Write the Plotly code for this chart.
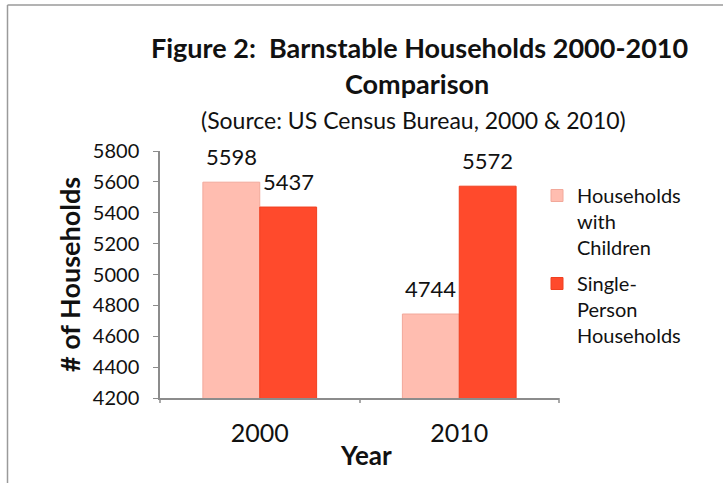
import plotly.graph_objects as go

years = ["2000", "2010"]
children = [5598, 4744]
single = [5437, 5572]
series_names = ["Households<br>with<br>Children", "Single-<br>Person<br>Households"]
y_ticks = [4200, 4400, 4600, 4800, 5000, 5200, 5400, 5600, 5800]

FONT = "Lato"
light = "#FFBDB0"
dark = "#FF4A2C"

fig = go.Figure()
fig.add_trace(go.Bar(
    x=years, y=children, name=series_names[0], legendgroup="a",
    marker=dict(color=light, line=dict(color="#F2A89A", width=1)),
))
fig.add_trace(go.Bar(
    x=years, y=single, name=series_names[1], legendgroup="b",
    marker=dict(color=dark, line=dict(color="#F04020", width=1)),
))

L, R, T, B = 160, 723 - 559, 151, 483 - 398
W, H = 723, 483
pw, ph = W - L - R, H - T - B

def px_x(p):
    return (p - L) / pw

def px_y(p):
    return (H - B - p) / ph

# data labels above each bar; x is the category index, shifted by half a bar width
annotations = []
bar_half = 28.5
for i, yr in enumerate(years):
    for vals, shift in ((children, -bar_half), (single, bar_half)):
        annotations.append(dict(
            x=i, y=vals[i], xref="x", yref="y", text=str(vals[i]), showarrow=False,
            xanchor="center", yanchor="middle", xshift=shift, yshift=26,
            font=dict(family=FONT, size=22, color="#111"),
        ))

annotations += [
    dict(text="<b>Figure 2:  Barnstable Households 2000-2010</b>", x=px_x(419), y=px_y(47),
         xref="paper", yref="paper", showarrow=False, xanchor="center", yanchor="middle",
         font=dict(family=FONT, size=27, color="#111")),
    dict(text="<b>Comparison</b>", x=px_x(417), y=px_y(83),
         xref="paper", yref="paper", showarrow=False, xanchor="center", yanchor="middle",
         font=dict(family=FONT, size=27, color="#111")),
    dict(text="(Source: US Census Bureau, 2000 & 2010)", x=px_x(413), y=px_y(120),
         xref="paper", yref="paper", showarrow=False, xanchor="center", yanchor="middle",
         font=dict(family=FONT, size=23, color="#111")),
    dict(text="<b>Year</b>", x=px_x(366), y=px_y(455),
         xref="paper", yref="paper", showarrow=False, xanchor="center", yanchor="middle",
         font=dict(family=FONT, size=26, color="#111")),
]

fig.update_layout(
    width=W, height=H,
    margin=dict(l=L, r=R, t=T, b=B, pad=0),
    paper_bgcolor="white", plot_bgcolor="white",
    barmode="group", bargap=0.43, bargroupgap=0,
    font=dict(family=FONT, color="#111"),
    showlegend=True,
    legend=dict(
        x=px_x(537), y=px_y(176), xanchor="left", yanchor="top",
        font=dict(family=FONT, size=20, color="#111"),
        bgcolor="rgba(0,0,0,0)", tracegroupgap=7, valign="top",
        itemwidth=30,
    ),
    xaxis=dict(
        type="category", range=[-0.5, 1.5],
        showline=True, linecolor="#8C8C8C", linewidth=1.5,
        ticks="", tickfont=dict(family=FONT, size=25, color="#111"),
        ticklabelstandoff=12,
        showgrid=False,
    ),
    yaxis=dict(
        range=[4200, 5800], tickvals=y_ticks,
        showline=True, linecolor="#8C8C8C", linewidth=1.5,
        ticks="outside", ticklen=5, tickcolor="#8C8C8C",
        tickfont=dict(family=FONT, size=20, color="#111"),
        ticklabelstandoff=10,
        title=dict(text="<b># of Households</b>", font=dict(family=FONT, size=27, color="#111"), standoff=4),
        showgrid=False, zeroline=False,
    ),
    annotations=annotations,
    shapes=[
        dict(type="line", xref="paper", yref="paper", x0=px_x(7.5), x1=px_x(723), y0=px_y(5), y1=px_y(5),
             line=dict(color="#9A9A9A", width=1.5)),
        dict(type="line", xref="paper", yref="paper", x0=px_x(7.5), x1=px_x(7.5), y0=px_y(5), y1=px_y(483),
             line=dict(color="#9A9A9A", width=1.5)),
        dict(type="line", xref="paper", yref="paper", x0=px_x(360), x1=px_x(360), y0=0, y1=px_y(403),
             line=dict(color="#8C8C8C", width=1.5)),
        dict(type="line", xref="paper", yref="paper", x0=1, x1=1, y0=0, y1=px_y(403),
             line=dict(color="#8C8C8C", width=1.5)),
        dict(type="line", xref="paper", yref="paper", x0=0, x1=0, y0=0, y1=px_y(403),
             line=dict(color="#8C8C8C", width=1.5)),
    ],
)

fig.write_html("out.html", config={"displayModeBar": False},
               post_script="document.body.style.margin='0';")
